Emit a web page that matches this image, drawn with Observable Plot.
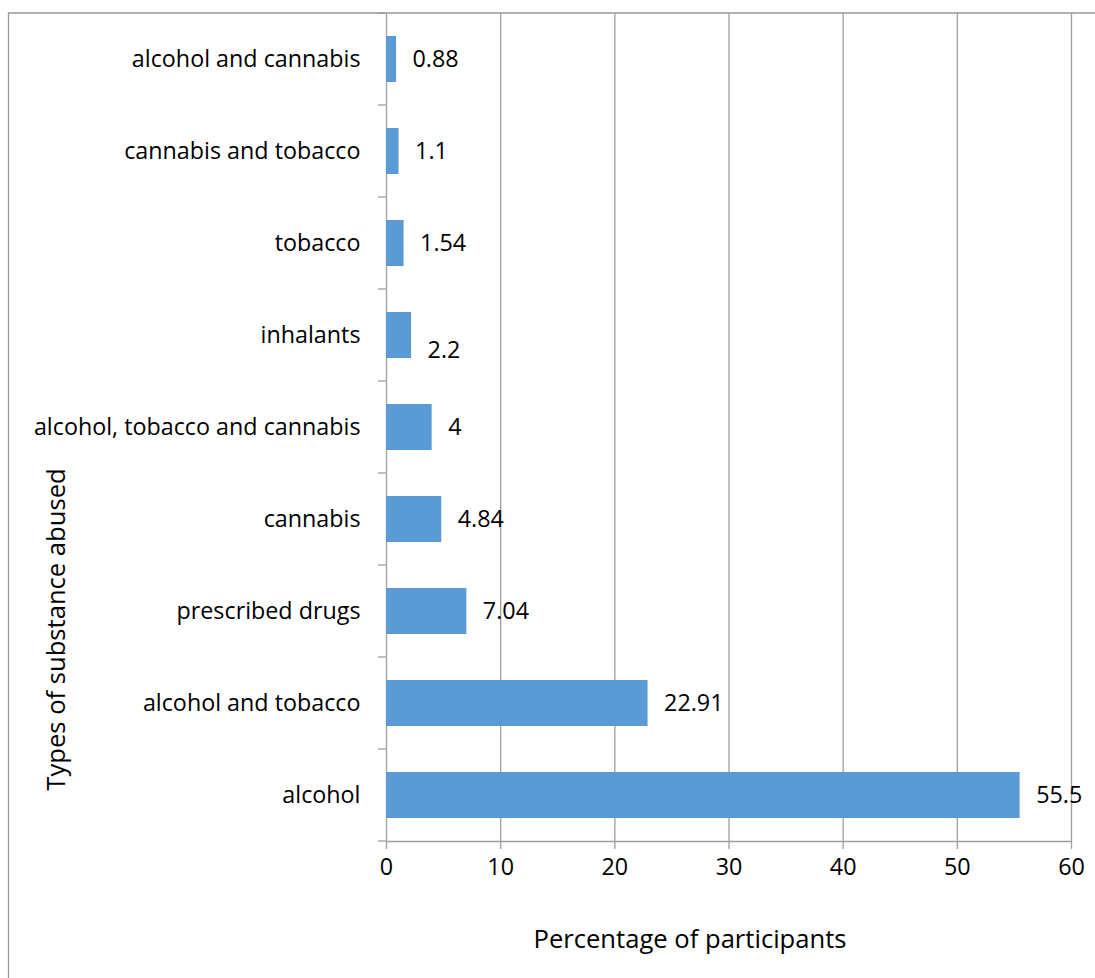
<!DOCTYPE html>
<html>
<head>
<meta charset="utf-8">
<script src="https://cdn.jsdelivr.net/npm/d3@7"></script>
<script src="https://cdn.jsdelivr.net/npm/@observablehq/plot@0.6"></script>
<style>
  html, body { margin: 0; padding: 0; background: #fff; }
  #chart svg { display: block; }
</style>
</head>
<body>
<div id="chart"></div>
<script>
// Substance categories, listed top to bottom
const categories = [
  "alcohol and cannabis",
  "cannabis and tobacco",
  "tobacco",
  "inhalants",
  "alcohol, tobacco and cannabis",
  "cannabis",
  "prescribed drugs",
  "alcohol and tobacco",
  "alcohol"
];

// Share of participants (%) for each category
const percentages = [0.88, 1.1, 1.54, 2.2, 4, 4.84, 7.04, 22.91, 55.5];

// Value-axis ticks
const xTicks = [0, 10, 20, 30, 40, 50, 60];

const xTitle = "Percentage of participants";
const yTitle = "Types of substance abused";

const rows = categories.map((category, i) => ({category, value: percentages[i]}));

// Value labels that sit a little below their bar
const loweredLabels = ["inhalants"];

const FONT = "'Open Sans', sans-serif";
const FS = 23.3;       // category, tick and value labels
const TITLE_FS = 25.6; // axis titles
const LINE = "#a0a0a0";
const BAR = "#5b9bd5";

const W = 1095, H = 978;
const mTop = 13, mLeft = 386, mRight = 24, mBottom = 137;

const plot = Plot.plot({
  width: W,
  height: H,
  marginTop: mTop,
  marginLeft: mLeft,
  marginRight: mRight,
  marginBottom: mBottom,
  style: {fontFamily: FONT, fontSize: `${FS}px`, color: "#000", background: "#fff"},
  x: {domain: [0, 60], ticks: xTicks},
  y: {domain: categories, paddingInner: 0.5, paddingOuter: 0.25},
  marks: [
    Plot.gridX(xTicks.filter(v => v > 0), {stroke: LINE, strokeOpacity: 1, strokeWidth: 1.3}),
    Plot.axisX(xTicks, {
      tickSize: 8, tickPadding: 9, stroke: LINE, strokeOpacity: 1, strokeWidth: 1.3,
      label: null, fontSize: FS, fill: "#000"
    }),
    Plot.ruleX([0], {stroke: LINE, strokeWidth: 1.3}),
    Plot.frame({anchor: "bottom", stroke: LINE, strokeWidth: 1.3}),
    Plot.barX(rows, {x: "value", y: "category", fill: BAR}),
    Plot.text(rows.filter(d => !loweredLabels.includes(d.category)), {
      x: "value", y: "category", text: d => String(d.value),
      dx: 16, textAnchor: "start", fontSize: FS, fill: "#000"
    }),
    Plot.text(rows.filter(d => loweredLabels.includes(d.category)), {
      x: "value", y: "category", text: d => String(d.value),
      dx: 16, dy: 15, textAnchor: "start", fontSize: FS, fill: "#000"
    }),
    Plot.axisY({tickSize: 0, tickPadding: 26, label: null, fontSize: FS, fill: "#000"}),
    Plot.text([xTitle], {
      frameAnchor: "bottom", textAnchor: "middle", lineAnchor: "middle",
      dx: -39, dy: 98, fontSize: TITLE_FS, fill: "#000"
    }),
    Plot.text([yTitle], {
      frameAnchor: "left", textAnchor: "middle", lineAnchor: "middle", rotate: -90,
      dx: -330, dy: 202, fontSize: TITLE_FS, fill: "#000"
    })
  ]
});

const svg = d3.select(plot);
const yScale = plot.scale("y");

// Category boundary ticks on the left of the value axis
const step = yScale.step;
const gap = (step - yScale.bandwidth) / 2;
const bounds = categories.map(c => yScale.apply(c) - gap);
bounds.push(bounds[bounds.length - 1] + step);
svg.append("g")
  .attr("stroke", LINE)
  .attr("stroke-width", 1.3)
  .selectAll("line")
  .data(bounds)
  .join("line")
  .attr("x1", mLeft - 8)
  .attr("x2", mLeft)
  .attr("y1", d => d)
  .attr("y2", d => d);

// Outer chart border (left and top edges)
svg.append("path")
  .attr("d", `M8.5,${H}V${mTop}H${W}`)
  .attr("fill", "none")
  .attr("stroke", "#999")
  .attr("stroke-width", 1.3);

document.getElementById("chart").appendChild(plot);
</script>
</body>
</html>
